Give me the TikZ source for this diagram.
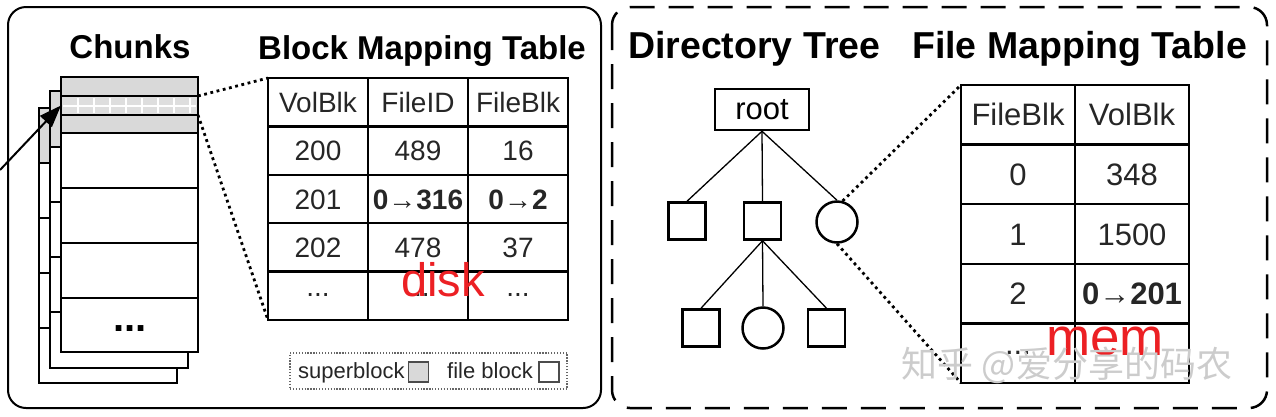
\documentclass[tikz,border=0pt]{standalone}
\usepackage{fontspec}
\setmainfont{Liberation Sans}
\newfontfamily\cjkfont{Noto Sans CJK SC}
\usetikzlibrary{arrows.meta,shapes.geometric}
\definecolor{sbgray}{RGB}{217,217,217}
\definecolor{bandgray}{RGB}{222,222,222}
\definecolor{redtxt}{RGB}{236,32,36}
\newcommand\myfs[1]{\fontsize{#1}{#1}\selectfont}
\begin{document}
\begin{tikzpicture}[x=1pt,y=-1pt,
  panel/.style={draw, line width=2pt, rounded corners=18pt},
  dpanel/.style={draw, line width=2.5pt, rounded corners=18pt, dash pattern=on 25pt off 14pt},
  chline/.style={line width=2pt},
  crow/.style={draw, line width=2pt, minimum width=137pt, inner sep=0pt, outer sep=0pt},
  bcell/.style={draw, line width=2.4pt, inner sep=0pt, outer sep=0pt, minimum width=100pt, minimum height=48.4pt, font=\myfs{28}, text height=20pt, text depth=0pt, text=black!85},
  fcell/.style={draw, line width=2.4pt, inner sep=0pt, outer sep=0pt, minimum width=114pt, minimum height=59.6pt, font=\myfs{31}, text height=22pt, text depth=0pt, text=black!85},
  head/.style={inner sep=0pt, font=\bfseries\myfs{33}},
  rhead/.style={inner sep=0pt, font=\bfseries\myfs{37.5}},
  tbox/.style={draw, line width=2.5pt, minimum size=37pt, inner sep=0pt},
  tcirc/.style={draw, circle, line width=2.5pt, minimum size=41pt, inner sep=0pt},
  tline/.style={line width=1.3pt},
  dotline/.style={line width=2.8pt, dash pattern=on 2.8pt off 3.6pt},
  redlab/.style={text=redtxt, inner sep=0pt},
  legtxt/.style={inner sep=0pt, font=\myfs{22}, text=black!85}
]
\useasboundingbox (0,0) rectangle (1276,416);

% panels
\draw[panel] (8,7) rectangle (601,408);
\draw[dpanel] (612,7) rectangle (1267,408);

% headings
\node[head, anchor=base] (hchunks) at (130,58) {Chunks};
\node[head, anchor=base west] (hbmt) at (258,59) {Block Mapping Table};
\node[rhead, anchor=base west] (hdir) at (628,58) {Directory Tree};
\node[rhead, anchor=base west] (hfmt) at (912,58) {File Mapping Table};

% back chunks
\filldraw[chline, fill=white] (39,108) rectangle (177,383);
\filldraw[chline, fill=sbgray] (39,108) rectangle (177,163);
\foreach \yy in {218,273,328} \draw[chline] (39,\yy) -- (177,\yy);
\filldraw[chline, fill=white] (50,91) rectangle (188,368);
\filldraw[chline, fill=sbgray] (50,91) rectangle (188,147);
\foreach \yy in {202,257,312} \draw[chline] (50,\yy) -- (188,\yy);

% front chunk
\node[crow, fill=white, minimum height=275pt] (cfront) at (129.5,214.5) {};
\node[crow, fill=sbgray, minimum height=19pt] (c1) at (129.5,86.5) {};
\node[crow, fill=bandgray, minimum height=19pt] (c2) at (129.5,105.5) {};
\node[crow, fill=sbgray, minimum height=18pt] (c3) at (129.5,124) {};
\node[crow, fill=white, minimum height=55pt] (c4) at (129.5,160.5) {};
\node[crow, fill=white, minimum height=55pt] (c5) at (129.5,215.5) {};
\node[crow, fill=white, minimum height=55pt] (c6) at (129.5,270.5) {};
\node[crow, fill=white, minimum height=54pt] (c7) at (129.5,325) {};
\draw[white, line width=2pt] (63,105.5) -- (196,105.5);
\foreach \xx in {78,94,...,190} \draw[white, line width=2pt] (\xx,98) -- (\xx,113);
\node[inner sep=0pt, anchor=base, font=\bfseries\myfs{40}] (cdots) at (130,331) {...};

% arrow
\coordinate (src) at (0,170);
\draw[line width=2pt, -{Triangle[length=22pt,width=16pt]}] (src) -- (c2.west);

% block mapping table
\foreach \r/\a/\b/\c in {1/VolBlk/FileID/FileBlk, 2/200/489/16, 3/201/\textbf{0→316}/\textbf{0→2}, 4/202/478/37, 5/\raisebox{9pt}{...}/\raisebox{9pt}{...}/\raisebox{9pt}{...}}{
  \node[bcell] (b-\r-1) at (318,{78+48.4*(\r-0.5)}) {\a};
  \node[bcell] (b-\r-2) at (418,{78+48.4*(\r-0.5)}) {\b};
  \node[bcell] (b-\r-3) at (518,{78+48.4*(\r-0.5)}) {\c};
}
\node[redlab, anchor=base, font=\myfs{47}] (disk) at (443,296) {disk};

\draw[dotline] (c2.north east) -- (b-1-1.north west);
\draw[dotline] (c2.south east) -- (b-5-1.south west);

% legend
\node[draw=black!60, line width=1.2pt, dash pattern=on 1.3pt off 1.6pt, minimum width=277pt, minimum height=36pt, inner sep=0pt] (legend) at (428.5,371) {};
\node[legtxt, anchor=base west] (lsb) at (298,378) {superblock};
\node[draw=black!70, fill=sbgray, line width=1.3pt, minimum size=20pt, inner sep=0pt] (lsbbox) at (418.5,372) {};
\node[legtxt, anchor=base west] (lfb) at (447,378) {file block};
\node[draw=black!70, fill=white, line width=1.3pt, minimum size=20pt, inner sep=0pt] (lfbbox) at (549,372) {};

% directory tree
\node[tbox, minimum width=94pt, minimum height=41pt, font=\myfs{31}] (root) at (762,109.5) {root};
\node[tbox] (d1) at (687,221) {};
\node[tbox] (d2) at (762.5,221) {};
\node[tcirc] (f1) at (837,222) {};
\node[tbox] (d3) at (701,328) {};
\node[tcirc] (f2) at (763,328) {};
\node[tbox] (d4) at (826.5,328) {};
\draw[tline] (root.south) -- (d1.north);
\draw[tline] (root.south) -- (d2.north);
\draw[tline] (root.south) -- (f1.north);
\draw[tline] (d2.south) -- (d3.north);
\draw[tline] (d2.south) -- (f2.north);
\draw[tline] (d2.south) -- (d4.north);

% file mapping table
\foreach \r/\a/\b in {1/FileBlk/VolBlk, 2/0/348, 3/1/1500, 4/2/\textbf{0→201}, 5/\raisebox{10pt}{...}/{}}{
  \node[fcell] (f-\r-1) at (1018,{85+59.6*(\r-0.5)}) {\a};
  \node[fcell] (f-\r-2) at (1132,{85+59.6*(\r-0.5)}) {\b};
}
\node[redlab, anchor=base, font=\myfs{53}] (mem) at (1105,355) {mem};

\draw[dotline] (f1.75) -- (f-1-1.north west);
\draw[dotline] (f1.south) -- (f-5-1.south west);

% watermark
\node[inner sep=0pt, font=\cjkfont\myfs{36}, text=gray!40] (wm) at (1067,365) {知乎 @爱分享的码农};
\end{tikzpicture}
\end{document}
